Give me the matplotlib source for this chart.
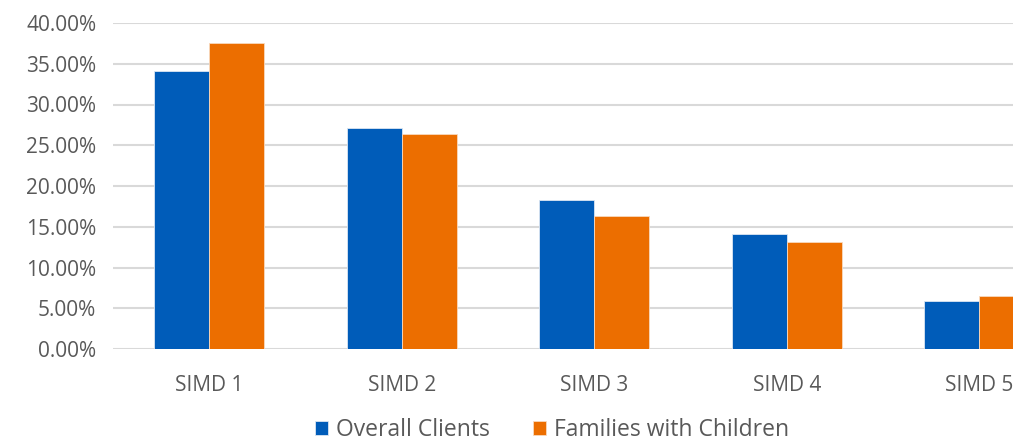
import numpy as np
import matplotlib.pyplot as plt
from matplotlib.ticker import FuncFormatter, MultipleLocator

categories = ["SIMD 1", "SIMD 2", "SIMD 3", "SIMD 4", "SIMD 5"]
overall_clients = [34.1, 27.1, 18.3, 14.1, 5.9]
families_with_children = [37.5, 26.4, 16.3, 13.1, 6.5]

blue = "#005CB9"
orange = "#EC6E00"
text_grey = "#595959"

plt.rcParams["font.family"] = ["Open Sans", "DejaVu Sans"]

fig = plt.figure(figsize=(10.13, 4.43), dpi=100)
# axes runs past the right edge, so the last group is clipped
ax = fig.add_axes([113 / 1013, 1 - 349 / 443, 962.5 / 1013, (349 - 23) / 443])

x = np.arange(len(categories))
w = 0.285
ax.bar(x - w / 2, overall_clients, w, color=blue, edgecolor="#DCE6F2",
       linewidth=0.6, label="Overall Clients", zorder=3)
ax.bar(x + w / 2, families_with_children, w, color=orange, edgecolor="#F8D9BE",
       linewidth=0.6, label="Families with Children", zorder=3)

ax.set_xlim(-0.5, len(categories) - 0.5)
ax.set_ylim(0, 40)
ax.yaxis.set_major_locator(MultipleLocator(5))
ax.yaxis.set_major_formatter(FuncFormatter(lambda v, _: f"{v:.2f}%"))
ax.grid(axis="y", color="#D9D9D9", linewidth=1.5, zorder=0)
ax.set_axisbelow(True)

ax.set_xticks(x)
ax.set_xticklabels(categories)
ax.tick_params(axis="both", length=0, labelsize=15, colors=text_grey)
ax.tick_params(axis="x", pad=19)
ax.tick_params(axis="y", pad=12)
for s in ax.spines.values():
    s.set_visible(False)

fig.legend(loc="lower center", bbox_to_anchor=(0.545, -0.045), ncol=2,
           frameon=False, fontsize=16.5, labelcolor=text_grey,
           handlelength=0.55, handleheight=0.55, handletextpad=0.35,
           columnspacing=1.9)

fig.savefig("out.png", dpi=100)
